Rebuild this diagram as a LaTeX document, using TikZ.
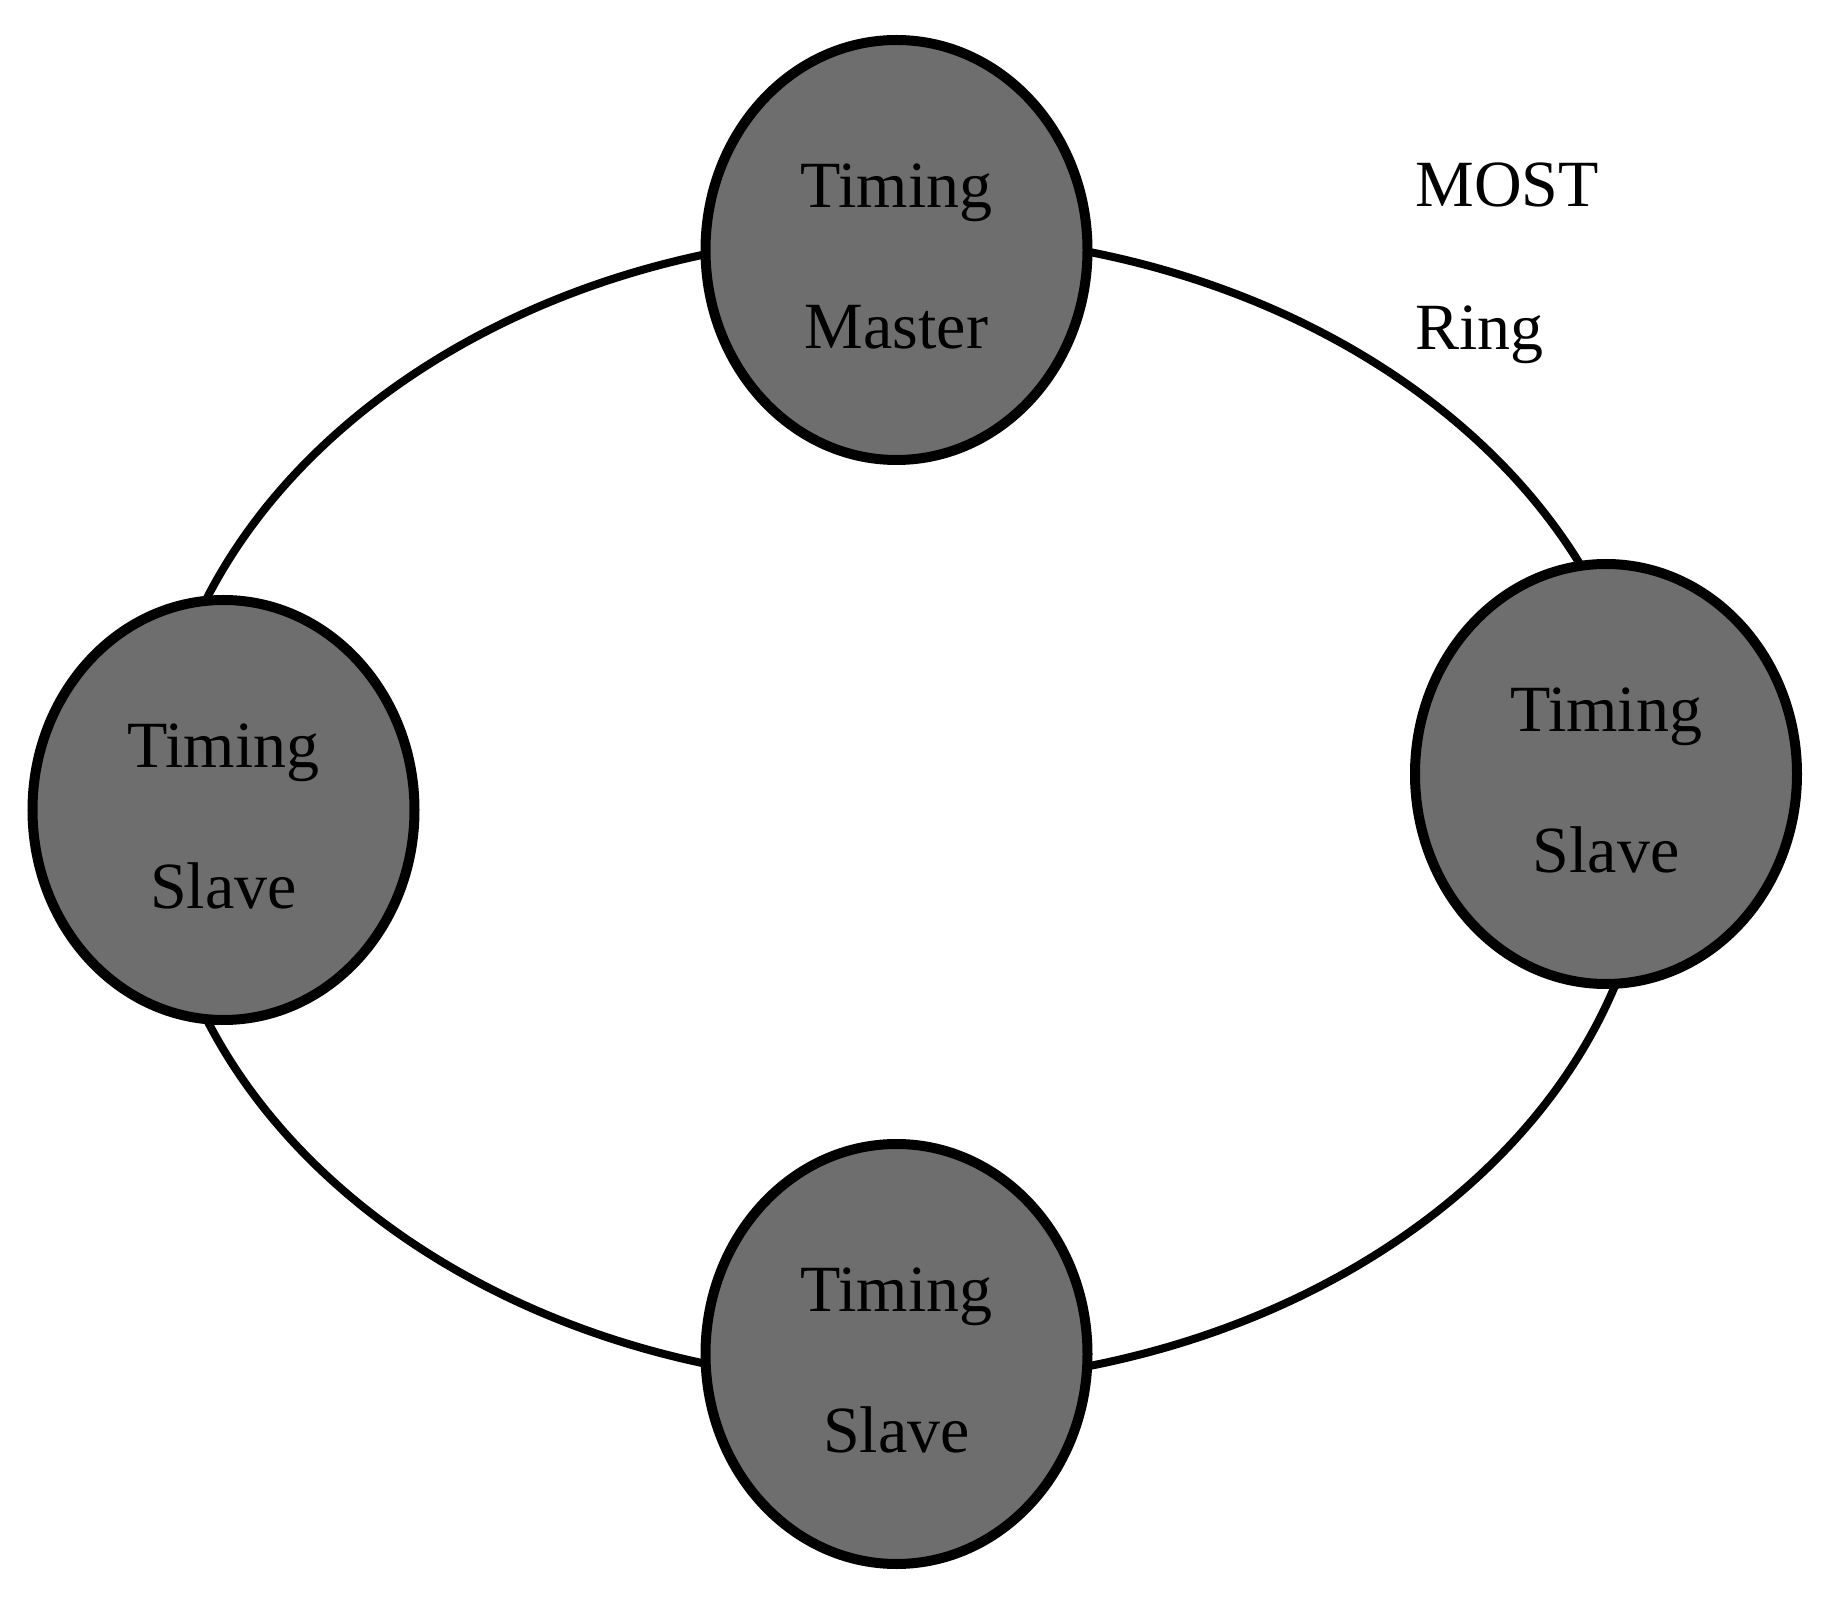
\documentclass[tikz,border=0pt]{standalone}
\usepackage{fontspec}
\setmainfont{Liberation Serif}
\usetikzlibrary{shapes.geometric}
\definecolor{stationgray}{RGB}{110,110,110}
\tikzset{
  station/.style={ellipse, draw=black, line width=5pt, fill=stationgray,
    minimum width=191pt, minimum height=210pt, inner sep=0pt, align=center,
    font=\fontsize{33}{70.5}\selectfont},
  ringline/.style={ellipse, draw=black, line width=4pt,
    minimum width=748pt, minimum height=575pt, inner sep=0pt},
  caption/.style={inner sep=0pt, anchor=base west, font=\fontsize{33}{70.5}\selectfont}
}
\begin{document}
\begin{tikzpicture}[x=0.5pt, y=-0.5pt]
  \useasboundingbox (0,0) rectangle (1833,1598);
  \node[ringline] (ring) at (903,809) {};
  \node[station] (master) at (896.5,250) {\rule{0pt}{28.5pt}Timing\\Master};
  \node[station] (slaveL) at (223.5,810) {\rule{0pt}{28.5pt}Timing\\Slave};
  \node[station] (slaveR) at (1606,774) {\rule{0pt}{28.5pt}Timing\\Slave};
  \node[station] (slaveB) at (896.5,1354) {\rule{0pt}{28.5pt}Timing\\Slave};
  \node[caption] (most) at (1415,207) {MOST};
  \node[caption] (ringtext) at (1415,350) {Ring};
\end{tikzpicture}
\end{document}
